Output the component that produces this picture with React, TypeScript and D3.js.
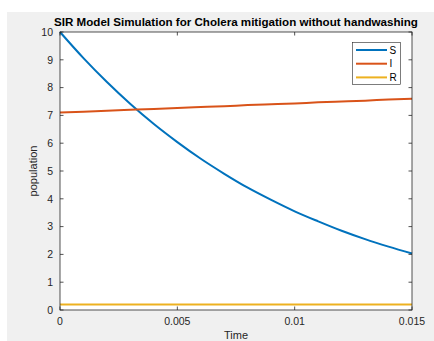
import React from "react";
import * as d3 from "d3";

const timeValues = [0, 0.001, 0.002, 0.003, 0.004, 0.005, 0.006, 0.007, 0.008, 0.009, 0.01, 0.011, 0.012, 0.013, 0.014, 0.015];
const susceptible = [10, 9.06, 8.2, 7.41, 6.69, 6.04, 5.44, 4.9, 4.4, 3.96, 3.55, 3.19, 2.85, 2.55, 2.28, 2.03];
const infected = [7.1, 7.13, 7.17, 7.2, 7.23, 7.27, 7.3, 7.33, 7.37, 7.4, 7.43, 7.47, 7.5, 7.53, 7.57, 7.6];
const recovered = [0.2, 0.2, 0.2, 0.2, 0.2, 0.2, 0.2, 0.2, 0.2, 0.2, 0.2, 0.2, 0.2, 0.2, 0.2, 0.2];
const seriesNames = ["S", "I", "R"];
const seriesColors = ["#0072BD", "#D95319", "#EDB120"];
const xTicks = [0, 0.005, 0.01, 0.015];
const xTickLabels = ["0", "0.005", "0.01", "0.015"];
const yTicks = [0, 1, 2, 3, 4, 5, 6, 7, 8, 9, 10];
const titleText = "SIR Model Simulation for Cholera mitigation without handwashing";
const xLabel = "Time";
const yLabel = "population";

export default function App() {
  const W = 434, H = 341;
  const left = 60, right = 412, top = 32, bottom = 310;
  const x = d3.scaleLinear().domain([0, 0.015]).range([left, right]);
  const y = d3.scaleLinear().domain([0, 10]).range([bottom, top]);
  const series = [susceptible, infected, recovered];
  const line = (vals: number[]) =>
    d3.line<number>().x((_, i) => x(timeValues[i])).y((v) => y(v)).curve(d3.curveMonotoneX)(vals) || "";
  const font = "'Liberation Sans', Arial, Helvetica, sans-serif";
  const axisColor = "#262626";
  const tl = 3.5;
  return (
    <svg width={W} height={H} style={{ position: "absolute", left: 0, top: 0 }} fontFamily={font}>
      <rect x={0} y={0} width={W} height={H} fill="#ffffff" />
      <rect x={7} y={12} width={W - 7} height={H - 12} fill="#f0f0f0" />
      <rect x={left} y={top} width={right - left} height={bottom - top} fill="#ffffff" />
      {series.map((vals, i) => (
        <path key={i} d={line(vals)} fill="none" stroke={seriesColors[i]} strokeWidth={2} />
      ))}
      <rect x={left} y={top} width={right - left} height={bottom - top} fill="none" stroke={axisColor} strokeWidth={0.8} />
      {xTicks.map((t, i) => (
        <g key={"x" + i}>
          <line x1={x(t)} x2={x(t)} y1={bottom} y2={bottom - tl} stroke={axisColor} strokeWidth={0.8} />
          <line x1={x(t)} x2={x(t)} y1={top} y2={top + tl} stroke={axisColor} strokeWidth={0.8} />
          <text x={x(t)} y={325} textAnchor="middle" fontSize={10.5} fill={axisColor}>{xTickLabels[i]}</text>
        </g>
      ))}
      {yTicks.map((t, i) => (
        <g key={"y" + i}>
          <line x1={left} x2={left + tl} y1={y(t)} y2={y(t)} stroke={axisColor} strokeWidth={0.8} />
          <line x1={right} x2={right - tl} y1={y(t)} y2={y(t)} stroke={axisColor} strokeWidth={0.8} />
          <text x={53} y={y(t)} dy="0.36em" textAnchor="end" fontSize={10.5} fill={axisColor}>{String(t)}</text>
        </g>
      ))}
      <text x={(left + right) / 2} y={25.5} textAnchor="middle" fontSize={11.6} fontWeight="bold" fill="#000">{titleText}</text>
      <text x={(left + right) / 2} y={339} textAnchor="middle" fontSize={11} fill={axisColor}>{xLabel}</text>
      <text transform={`translate(37,${(top + bottom) / 2}) rotate(-90)`} textAnchor="middle" fontSize={11} fill={axisColor}>{yLabel}</text>
      <g>
        <rect x={352.5} y={42.5} width={48} height={42} fill="#ffffff" stroke="#262626" strokeWidth={0.6} />
        {seriesNames.map((n, i) => (
          <g key={n}>
            <line x1={356} x2={387} y1={50 + i * 13.7} y2={50 + i * 13.7} stroke={seriesColors[i]} strokeWidth={2} />
            <text x={389.5} y={50 + i * 13.7} dy="0.36em" fontSize={10} fill="#000">{n}</text>
          </g>
        ))}
      </g>
    </svg>
  );
}
